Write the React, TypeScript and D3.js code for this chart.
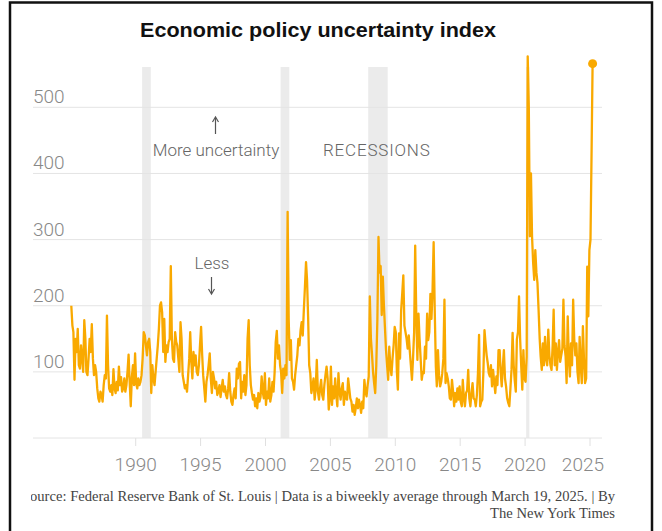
import React from 'react'
import * as d3 from 'd3'

// monthly values, Jan..Dec
const epu1980s = [
  200, 170, 160, 88, 150, 130, 165, 110, 105, 140, 120, 100,
  178, 150, 100, 95, 120, 150, 130, 172, 120, 95, 110, 100,
  75, 60, 55, 70, 65, 55, 80, 95, 90, 185, 110, 75,
  70, 80, 65, 104, 75, 68, 85, 72, 108, 80, 92, 70,
  75, 90, 70, 80, 100, 126, 85, 48, 92, 110, 80, 128,
]
const epu1990s = [
  82, 75, 90, 80, 85, 95, 120, 160, 155, 140, 125, 145,
  150, 130, 68, 110, 90, 80, 100, 120, 140, 165, 200, 205,
  190, 130, 180, 115, 140, 130, 145, 150, 260, 150, 120, 115,
  160, 145, 140, 120, 100, 175, 150, 95, 85, 75, 80, 70,
  95, 120, 160, 115, 90, 130, 110, 125, 100, 95, 110, 140,
  168, 125, 95, 75, 55, 85, 95, 110, 128, 90, 68, 100,
  90, 75, 85, 65, 70, 80, 62, 75, 88, 70, 78, 65,
  60, 75, 98, 70, 55, 50, 65, 75, 60, 105, 90, 112,
  115, 60, 85, 70, 95, 65, 80, 150, 178, 110, 80, 68,
  58, 65, 48, 60, 45, 68, 55, 62, 93, 70, 60, 98,
]
const epu2000s = [
  50, 70, 60, 90, 55, 65, 85, 70, 100, 145, 162, 120,
  140, 110, 100, 68, 105, 90, 110, 95, 342, 180, 118, 148,
  90, 85, 73, 95, 110, 125, 150, 140, 163, 175, 155, 193,
  228, 266, 240, 183, 110, 98, 68, 78, 90, 58, 75, 118,
  70, 58, 75, 88, 65, 58, 80, 95, 108, 90, 43, 60,
  108, 50, 78, 60, 90, 65, 48, 98, 70, 58, 75, 83,
  50, 70, 60, 58, 90, 75, 60, 55, 40, 50, 35, 45,
  60, 45, 58, 50, 38, 55, 45, 88, 70, 63, 80, 93,
  214, 150, 128, 100, 83, 68, 110, 180, 304, 250, 260, 186,
  244, 200, 168, 133, 110, 88, 138, 108, 95, 120, 140, 168,
]
const epu2010s = [
  160, 100, 73, 158, 120, 193, 218, 246, 170, 160, 150, 135,
  155, 130, 110, 88, 120, 160, 291, 183, 118, 188, 150, 120,
  88, 100, 98, 138, 120, 188, 148, 160, 218, 180, 224, 296,
  193, 108, 78, 133, 95, 78, 85, 98, 120, 209, 83, 98,
  90, 78, 60, 58, 88, 70, 48, 68, 55, 75, 58, 78,
  55, 48, 88, 60, 48, 68, 72, 103, 60, 48, 68, 83,
  60, 58, 48, 65, 98, 156, 48, 55, 58, 100, 163, 143,
  125, 113, 98, 93, 110, 78, 103, 85, 68, 93, 80, 133,
  133, 98, 78, 108, 133, 90, 78, 60, 53, 48, 75, 103,
  159, 110, 88, 70, 149, 160, 214, 150, 108, 73, 133, 90,
]
const epu2020s = [
  85, 123, 577, 500, 305, 400, 305, 265, 239, 284, 250, 234,
  194, 150, 123, 103, 143, 110, 153, 120, 110, 164, 125, 110,
  103, 140, 194, 110, 143, 103, 130, 148, 115, 125, 135, 209,
  140, 123, 83, 184, 120, 93, 143, 110, 209, 150, 125, 143,
  100, 83, 153, 110, 83, 169, 120, 83, 90, 259, 184, 284,
  300, 435, 566,
]

const recessionStarts = ['1990-07-01', '2001-03-01', '2007-12-01', '2020-02-01']
const recessionEnds = ['1991-03-01', '2001-11-01', '2009-06-01', '2020-04-30']

const yTicks = [100, 200, 300, 400, 500]
const xTicks = [1990, 1995, 2000, 2005, 2010, 2015, 2020, 2025]

const lineColor = '#f9a900'
const tickFont = 'Roboto, "Liberation Sans", sans-serif'

export default function App() {
  const width = 662
  const height = 531

  const values = [...epu1980s, ...epu1990s, ...epu2000s, ...epu2010s, ...epu2020s]
  const data = values.map((v, i) => ({ date: new Date(1985, i, 15), value: v }))

  // escalas
  const x = d3.scaleTime()
    .domain([new Date(1990, 0, 1), new Date(2025, 0, 1)])
    .range([135.7, 590])
  const y = d3.scaleLinear().domain([0, 500]).range([438, 107.3])

  const left = 33
  const right = 602

  const line = d3.line<{ date: Date; value: number }>()
    .x(d => x(d.date))
    .y(d => y(d.value))(data)

  const last = data[data.length - 1]
  const parse = d3.timeParse('%Y-%m-%d')

  return (
    <svg width={width} height={height} style={{ position: 'absolute', left: 0, top: 0, background: '#fff' }}>
      <defs>
        <clipPath id="srcClip">
          <rect x={31} y={470} width={620} height={60} />
        </clipPath>
      </defs>

      {/* recessions */}
      {recessionStarts.map((s, i) => {
        const x0 = x(parse(s)!)
        const x1 = x(parse(recessionEnds[i])!)
        return <rect key={s} x={x0} y={67} width={Math.max(x1 - x0, 2)} height={438 - 67} fill="#ebebeb" />
      })}

      {/* grid */}
      {[0, ...yTicks].map(t => (
        <line key={t} x1={left} x2={right} y1={y(t)} y2={y(t)} stroke="#e4e4e4" strokeWidth={1} />
      ))}
      {yTicks.map(t => (
        <text key={t} x={left} y={y(t) - 4} fontFamily={tickFont} fontWeight={300} fontSize={19} fill="#888">{t}</text>
      ))}

      {xTicks.map((t, i) => {
        const tx = x(new Date(t, 0, 1))
        const isLast = i === xTicks.length - 1
        return (
          <g key={t}>
            <line x1={tx} x2={tx} y1={438} y2={446} stroke="#e0e0e0" />
            <text x={isLast ? 604 : tx} y={471} textAnchor={isLast ? 'end' : 'middle'}
              fontFamily={tickFont} fontWeight={300} fontSize={19} fill="#888">{t}</text>
          </g>
        )
      })}

      {/* annotations */}
      <g fontFamily={tickFont} fontWeight={300} fontSize={17} fill="#666">
        <text x={216} y={156} textAnchor="middle">More uncertainty</text>
        <text x={323} y={156} letterSpacing={0.8}>RECESSIONS</text>
        <text x={212} y={269} textAnchor="middle">Less</text>
      </g>
      <g stroke="#555" strokeWidth={1.2} fill="none">
        <line x1={215.5} x2={215.5} y1={118} y2={134} />
        <path d="M212.5,122 L215.5,117 L218.5,122" />
        <line x1={211.5} x2={211.5} y1={277} y2={293} />
        <path d="M208.5,289 L211.5,294 L214.5,289" />
      </g>

      <path d={line ?? ''} fill="none" stroke={lineColor} strokeWidth={2.3} strokeLinejoin="round" />
      <circle cx={x(last.date)} cy={y(last.value)} r={4.5} fill={lineColor} />

      <text x={318} y={37} textAnchor="middle" fontFamily='"Liberation Sans", Arial, sans-serif'
        fontWeight={700} fontSize={20} textLength={356} lengthAdjust="spacingAndGlyphs" fill="#111">
        Economic policy uncertainty index
      </text>

      <g clipPath="url(#srcClip)" fontFamily='"Liberation Serif", Georgia, serif' fontSize={14.6} fill="#444">
        <text x={615} y={501} textAnchor="end">Source: Federal Reserve Bank of St. Louis | Data is a biweekly average through March 19, 2025. | By</text>
        <text x={615} y={518} textAnchor="end">The New York Times</text>
      </g>

      {/* frame */}
      <path d="M10,540 V2.5 H652 V540" fill="none" stroke="#111" strokeWidth={2.5} />
    </svg>
  )
}
